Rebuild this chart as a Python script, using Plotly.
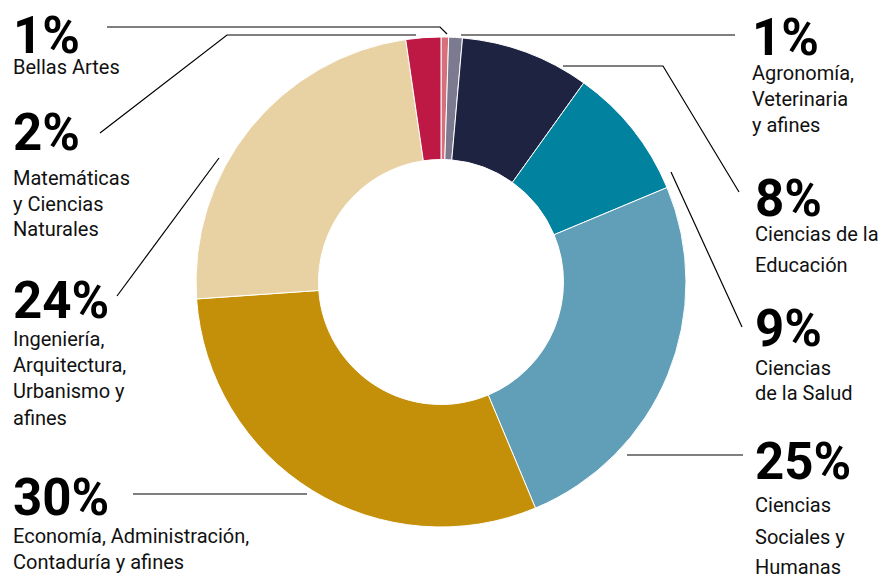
import plotly.graph_objects as go

# ---- data ----
categories = ["Bellas Artes", "Agronomía, Veterinaria y afines", "Ciencias de la Educación",
              "Ciencias de la Salud", "Ciencias Sociales y Humanas",
              "Economía, Administración, Contaduría y afines",
              "Ingeniería, Arquitectura, Urbanismo y afines", "Matemáticas y Ciencias Naturales"]
values = [0.5, 0.9, 8.5, 8.8, 25.0, 30.2, 23.8, 2.3]
pct_labels = ["1%", "1%", "8%", "9%", "25%", "30%", "24%", "2%"]
label_lines = [
    ["Bellas Artes"],
    ["Agronomía,", "Veterinaria", "y afines"],
    ["Ciencias de la", "Educación"],
    ["Ciencias", "de la Salud"],
    ["Ciencias", "Sociales y", "Humanas"],
    ["Economía, Administración,", "Contaduría y afines"],
    ["Ingeniería,", "Arquitectura,", "Urbanismo y", "afines"],
    ["Matemáticas", "y Ciencias", "Naturales"],
]
colors = ["#D8707B", "#7B7A90", "#1D2341", "#01829F", "#619FB9", "#C4900A", "#E8D2A3", "#BE1845"]

# page body has an 8px margin; compensate so the figure fills the window
OFF = 8
W, H = 886 - OFF, 574 - OFF
CX, CY, R = 441, 282, 245

def px(x, y):
    return (x - OFF) / W, 1 - (y - OFF) / H

# layout positions (pixels in window): big label (x, y_center), sub lines y list
label_pos = [
    (11, 35, [67]),
    (750, 37, [73, 99, 125]),
    (753, 199, [234, 265]),
    (753, 328, [368, 393]),
    (753, 461, [505, 537, 567]),
    (11, 497, [536, 562]),
    (11, 300, [339, 365, 391, 418]),
    (11, 132, [178, 204, 229]),
]
leaders = [
    [(107, 27), (440, 27), (447, 34)],
    [(461, 35), (735, 35)],
    [(563, 66), (663, 66), (739, 192)],
    [(671, 172), (742, 327)],
    [(627, 455), (743, 455)],
    [(133, 494), (307, 494)],
    [(117, 296), (219, 158)],
    [(100, 133), (227, 35), (416, 35)],
]

x0, y1 = px(CX - R, CY - R)
x1, y0 = px(CX + R, CY + R)
fig = go.Figure(go.Pie(
    labels=categories, values=values, marker=dict(colors=colors, line=dict(color="white", width=1)),
    hole=0.5, sort=False, direction="clockwise", rotation=0, textinfo="none",
    hoverinfo="label+percent", showlegend=False,
    domain=dict(x=[x0, x1], y=[y0, y1]),
))

annotations = []
for pct, lines, (x, yc, ys) in zip(pct_labels, label_lines, label_pos):
    ax, ay = px(x, yc)
    annotations.append(dict(x=ax, y=ay, xref="paper", yref="paper", text=pct, showarrow=False,
                            xanchor="left", yanchor="middle",
                            font=dict(family="Roboto", size=51, color="black", weight="bold")))
    for line, yl in zip(lines, ys):
        lx, ly = px(x, yl)
        annotations.append(dict(x=lx, y=ly, xref="paper", yref="paper", text=line, showarrow=False,
                                xanchor="left", yanchor="middle",
                                font=dict(family="Roboto", size=20, color="#111111")))

shapes = []
for pts in leaders:
    path = "M " + " L ".join(f"{px(a, b)[0]:.5f},{px(a, b)[1]:.5f}" for a, b in pts)
    shapes.append(dict(type="path", path=path, xref="paper", yref="paper",
                       line=dict(color="black", width=1.2)))

fig.update_layout(width=W, height=H, margin=dict(l=0, r=0, t=0, b=0),
                  paper_bgcolor="white", plot_bgcolor="white",
                  annotations=annotations, shapes=shapes)
fig.write_html("out.html")
